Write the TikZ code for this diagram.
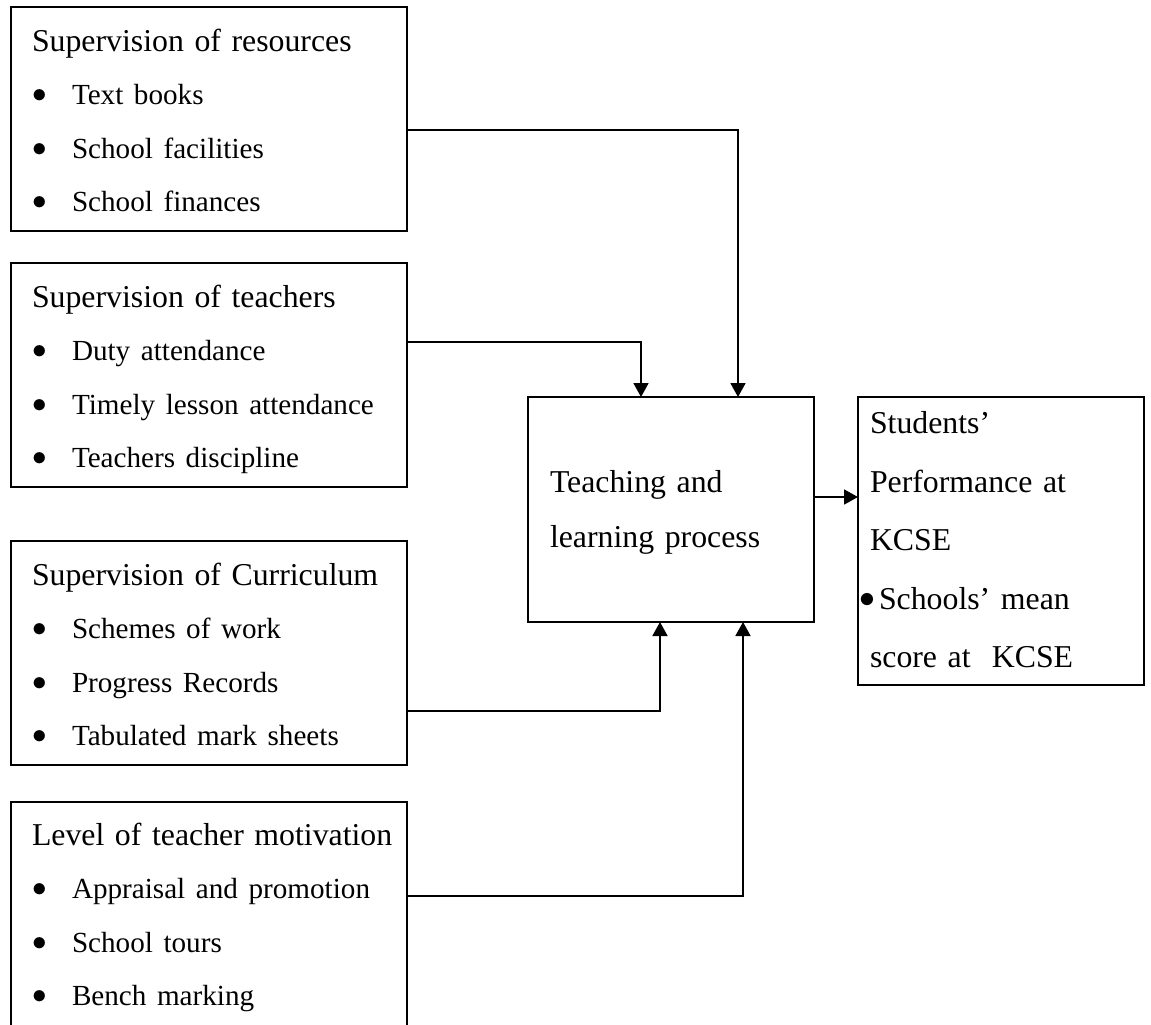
\RequirePackage{fix-cm}
\documentclass[tikz,border=0pt]{standalone}
\usepackage{fontspec}
\setmainfont{Liberation Serif}
\usetikzlibrary{positioning,calc}
\usetikzlibrary{arrows.meta}
\tikzstyle{factor} = [rectangle, draw=black, line width=1.8pt, minimum width=396pt, minimum height=224pt,
text width=354pt, inner xsep=21pt, inner ysep=0pt, outer sep=0pt, align=left, anchor=north west,
font=\fontsize{31.8}{53.5}\selectfont]
\tikzstyle{process} = [rectangle, draw=black, line width=1.8pt, minimum width=286pt, minimum height=225pt,
text width=242pt, inner xsep=22pt, inner ysep=0pt, outer sep=0pt, align=left, anchor=north west,
font=\fontsize{31.8}{55}\selectfont]
\tikzstyle{outcome} = [rectangle, draw=black, line width=1.8pt, minimum width=286pt, minimum height=288pt,
text width=262pt, inner xsep=12pt, inner ysep=0pt, outer sep=0pt, align=left, anchor=north west,
font=\fontsize{31.8}{58.5}\selectfont]
\tikzstyle{arrow} = [line width=1.8pt, -{Triangle[width=15pt,length=14pt]}]
\newcommand{\tstrut}[1][32pt]{\rule{0pt}{#1}}
\newcommand{\bstrut}{\rule[-7pt]{0pt}{7pt}}
\newcommand{\blt}{\raisebox{2pt}{$\bullet$}}
\newcommand{\bitem}[1]{\mbox{\fontsize{29.15}{53.5}\selectfont\makebox[40pt][l]{\blt}#1}}
\begin{document}
\begin{tikzpicture}[x=1pt,y=-1pt]
				\useasboundingbox (0,0) rectangle (1151,1025);
				\node (res) at (11,7) [factor] {\tstrut\mbox{Supervision of resources}\\ \bitem{Text books}\\ \bitem{School facilities}\\ \bitem{School finances}\bstrut};
				\node (tea) at (11,263) [factor] {\tstrut\mbox{Supervision of teachers}\\ \bitem{Duty attendance}\\ \bitem{Timely lesson attendance}\\ \bitem{Teachers discipline}\bstrut};
				\node (cur) at (11,541) [factor] {\tstrut\mbox{Supervision of Curriculum}\\ \bitem{Schemes of work}\\ \bitem{Progress Records}\\ \bitem{Tabulated mark sheets}\bstrut};
				\node (mot) at (11,802) [factor, minimum height=226pt] {\tstrut[28pt]\mbox{Level of teacher motivation}\\ \bitem{Appraisal and promotion}\\ \bitem{School tours}\\ \bitem{Bench marking}\bstrut};
				\node (tlp) at (528,397) [process] {\tstrut[28pt]Teaching and\\ learning process\bstrut};
				\node (perf) at (858,397) [outcome] {\tstrut[26pt]Students’\\ Performance at\\ KCSE\\ \mbox{\hspace{-11pt}\makebox[20pt][l]{\blt}Schools’ mean}\\ score at~~KCSE\bstrut};
				\draw[arrow] ([yshift=-11pt]res.east) -| ([xshift=67pt]tlp.north);
				\draw[arrow] ([yshift=33pt]tea.east) -| ([xshift=-30pt]tlp.north);
				\draw[arrow] ([yshift=-58pt]cur.east) -| ([xshift=-11pt]tlp.south);
				\draw[arrow] ([yshift=19pt]mot.east) -| ([xshift=72pt]tlp.south);
				\draw[arrow] ([yshift=12.5pt]tlp.east) -- ([yshift=44pt]perf.west);
\end{tikzpicture}
\end{document}
